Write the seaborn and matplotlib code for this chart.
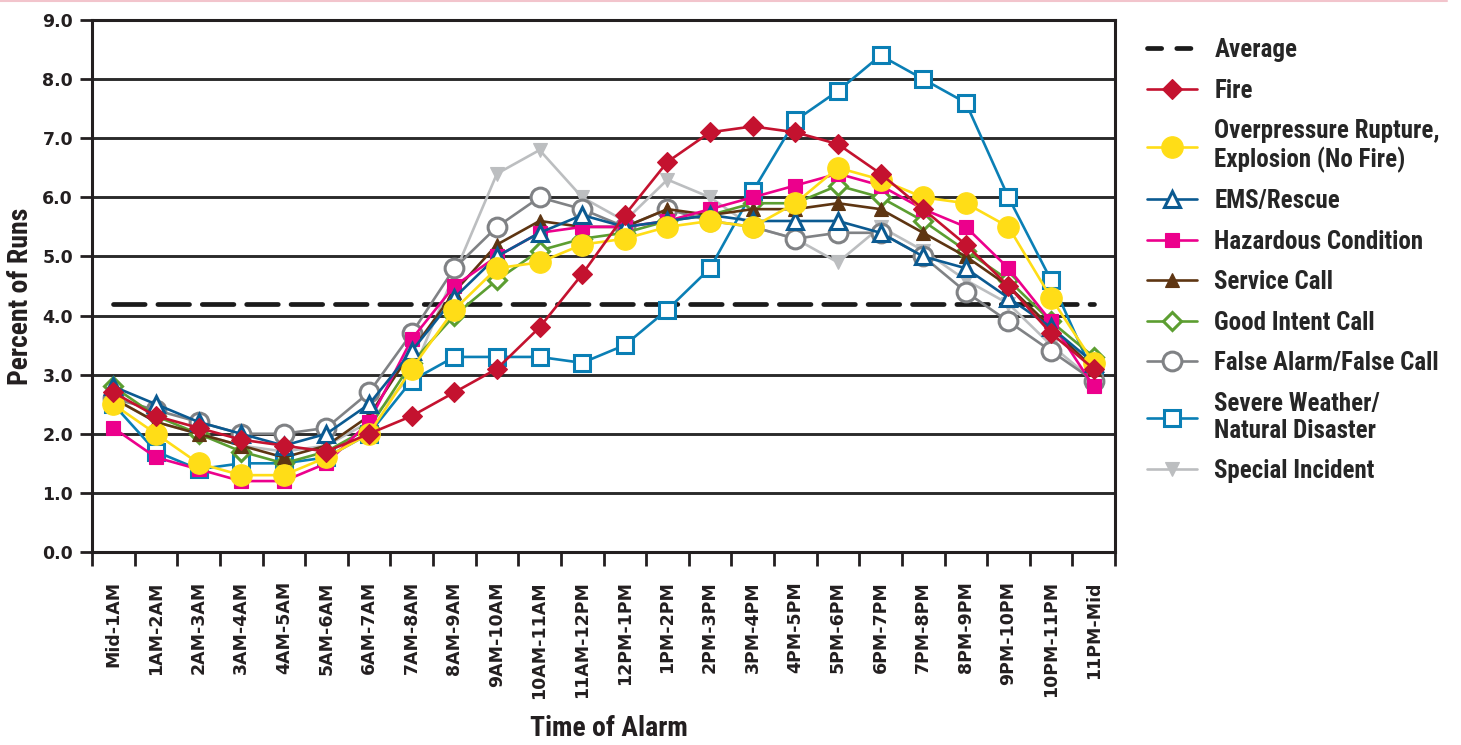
import matplotlib
matplotlib.use("Agg")
import matplotlib.pyplot as plt
from matplotlib.lines import Line2D
from matplotlib import font_manager as fm
import seaborn as sns
import pandas as pd

# Hour-of-day categories
hours = ["Mid-1AM", "1AM-2AM", "2AM-3AM", "3AM-4AM", "4AM-5AM", "5AM-6AM",
         "6AM-7AM", "7AM-8AM", "8AM-9AM", "9AM-10AM", "10AM-11AM", "11AM-12PM",
         "12PM-1PM", "1PM-2PM", "2PM-3PM", "3PM-4PM", "4PM-5PM", "5PM-6PM",
         "6PM-7PM", "7PM-8PM", "8PM-9PM", "9PM-10PM", "10PM-11PM", "11PM-Mid"]

# Percent of runs per incident type
average = 4.2
fire = [2.7, 2.3, 2.1, 1.9, 1.8, 1.7, 2.0, 2.3, 2.7, 3.1, 3.8, 4.7,
        5.7, 6.6, 7.1, 7.2, 7.1, 6.9, 6.4, 5.8, 5.2, 4.5, 3.7, 3.1]
overpressure = [2.5, 2.0, 1.5, 1.3, 1.3, 1.6, 2.0, 3.1, 4.1, 4.8, 4.9, 5.2,
                5.3, 5.5, 5.6, 5.5, 5.9, 6.5, 6.3, 6.0, 5.9, 5.5, 4.3, 3.2]
ems_rescue = [2.8, 2.5, 2.2, 2.0, 1.8, 2.0, 2.5, 3.4, 4.3, 5.0, 5.4, 5.7,
              5.5, 5.6, 5.7, 5.6, 5.6, 5.6, 5.4, 5.0, 4.8, 4.3, 3.8, 3.2]
hazardous = [2.1, 1.6, 1.4, 1.2, 1.2, 1.5, 2.2, 3.6, 4.5, 5.0, 5.4, 5.5,
             5.5, 5.6, 5.8, 6.0, 6.2, 6.4, 6.2, 5.8, 5.5, 4.8, 3.9, 2.8]
service_call = [2.6, 2.2, 2.0, 1.8, 1.6, 1.8, 2.3, 3.4, 4.4, 5.2, 5.6, 5.5,
                5.5, 5.8, 5.7, 5.8, 5.8, 5.9, 5.8, 5.4, 5.0, 4.5, 3.8, 3.1]
good_intent = [2.8, 2.3, 2.0, 1.7, 1.5, 1.7, 2.1, 3.2, 4.0, 4.6, 5.1, 5.3,
               5.4, 5.6, 5.7, 5.9, 5.9, 6.2, 6.0, 5.6, 5.1, 4.6, 3.9, 3.3]
false_alarm = [2.6, 2.4, 2.2, 2.0, 2.0, 2.1, 2.7, 3.7, 4.8, 5.5, 6.0, 5.8,
               5.5, 5.8, 5.6, 5.5, 5.3, 5.4, 5.4, 5.0, 4.4, 3.9, 3.4, 2.9]
severe_weather = [2.5, 1.7, 1.4, 1.5, 1.5, 1.6, 2.0, 2.9, 3.3, 3.3, 3.3, 3.2,
                  3.5, 4.1, 4.8, 6.1, 7.3, 7.8, 8.4, 8.0, 7.6, 6.0, 4.6, 3.0]
special_incident = [2.6, 2.2, 2.0, 1.8, 1.7, 1.8, 2.2, 3.0, 4.7, 6.4, 6.8, 6.0,
                    5.6, 6.3, 6.0, 5.5, 5.3, 4.9, 5.5, 5.1, 4.6, 4.2, 3.5, 2.9]

x = list(range(len(hours)))

# (label, values, colour, marker, marker size, face colour); drawn bottom to top
series = [
    ("Special Incident", special_incident, "#BCBEC0", "v", 10, None),
    ("Severe Weather/\nNatural Disaster", severe_weather, "#0A7FB5", "s", 12, "white"),
    ("False Alarm/False Call", false_alarm, "#808285", "o", 13.5, "white"),
    ("Good Intent Call", good_intent, "#5C9E31", "D", 9, "white"),
    ("Service Call", service_call, "#5E3512", "^", 10, None),
    ("Hazardous Condition", hazardous, "#EC008C", "s", 10, None),
    ("EMS/Rescue", ems_rescue, "#0B5A91", "^", 12, "white"),
    ("Overpressure Rupture,\nExplosion (No Fire)", overpressure, "#FFDD17", "o", 15.5, None),
    ("Fire", fire, "#C4122F", "D", 10.5, None),
]


def condensed_bold_font():
    """Return the path of a bold condensed sans face if one is installed."""
    prefs = ["robotocondensed-bold", "notosans-condensedbold",
             "notosanscondensed-bold", "liberationsansnarrow-bold",
             "opensans-condensedbold", "opensanscondensed-bold"]
    files = {f.fname.lower().split("/")[-1].rsplit(".", 1)[0]: f.fname
             for f in fm.fontManager.ttflist}
    for p in prefs:
        if p in files:
            return files[p]
    for f in fm.fontManager.ttflist:
        if f.stretch in ("condensed", "semi-condensed") and f.weight in (700, "bold") \
                and f.style == "normal":
            return f.fname
    return None


sns.set_theme(style="white")
plt.rcParams["font.family"] = ["DejaVu Sans"]

LEGEND_SIZE = 18
cond_path = condensed_bold_font()
if cond_path:
    title_fp = fm.FontProperties(fname=cond_path, size=20)
    legend_fp = fm.FontProperties(fname=cond_path, size=LEGEND_SIZE)
else:
    title_fp = fm.FontProperties(family=["Liberation Sans", "DejaVu Sans"],
                                 weight="bold", size=18)
    legend_fp = fm.FontProperties(family=["Liberation Sans", "DejaVu Sans"],
                                  weight="bold", size=LEGEND_SIZE)

fig = plt.figure(figsize=(14.61, 7.45), dpi=100)
ax = fig.add_axes([92 / 1461, 1 - 552 / 745, (1115 - 92) / 1461, (552 - 20) / 745])

# horizontal gridlines
for yv in range(1, 9):
    ax.axhline(yv, color="#2B2B2B", lw=2.1, zorder=1)

# average reference line
avg_df = pd.DataFrame({"x": x, "y": [average] * len(x)})
sns.lineplot(data=avg_df, x="x", y="y", ax=ax, color="#1A1A1A", lw=3.4,
             dashes=False, legend=False, zorder=2)
avg_line = ax.lines[-1]
avg_line.set_dashes((6.7, 2.7))
avg_line.set_dash_capstyle("round")

handles = {}
for i, (label, vals, col, mk, ms, face) in enumerate(series):
    df = pd.DataFrame({"x": x, "y": vals})
    sns.lineplot(data=df, x="x", y="y", ax=ax, color=col, lw=1.9,
                 marker=mk, markersize=ms,
                 markerfacecolor=(face if face else col),
                 markeredgecolor=col,
                 markeredgewidth=(2.2 if face else 0.8),
                 legend=False, zorder=3 + i)
    handles[label] = ax.lines[-1]

ax.set_xlim(-0.5, len(hours) - 0.5)
ax.set_ylim(0, 9)

# y axis
ax.set_yticks(range(0, 10))
ax.set_yticklabels([f"{v:.1f}" for v in range(0, 10)], fontsize=12.5,
                   fontweight="bold", color="#231F20")
ax.tick_params(axis="y", which="major", direction="out", length=8.6, width=2,
               color="#231F20", pad=5, left=True)

# x axis: labels at categories, tick marks between categories
ax.set_xticks(x)
ax.set_xticklabels(hours, rotation=90, fontsize=12.5, fontweight="bold",
                   color="#231F20", va="top", ha="center")
ax.set_xticks([v - 0.5 for v in range(len(hours) + 1)], minor=True)
ax.tick_params(axis="x", which="major", length=0, pad=21)
ax.tick_params(axis="x", which="minor", direction="out", length=10, width=2,
               color="#231F20", bottom=True)

for sp in ax.spines.values():
    sp.set_visible(True)
    sp.set_color("#231F20")
    sp.set_linewidth(2.2)

ax.set_xlabel("Time of Alarm", color="#231F20", fontproperties=title_fp)
ax.set_ylabel("Percent of Runs", color="#231F20", fontproperties=title_fp)
ax.xaxis.label.set_va("center")
ax.xaxis.set_label_coords((609 - 92) / 1023, (552 - 729) / 532)
ax.yaxis.label.set_va("center")
ax.yaxis.set_label_coords((21 - 92) / 1023, (552 - 296) / 532)
ax.grid(False)

# legend
avg_handle = Line2D([], [], color="#1A1A1A", lw=3.4, dashes=(3.0, 3.2),
                    dash_capstyle="round")
order = ["Fire", "Overpressure Rupture,\nExplosion (No Fire)", "EMS/Rescue",
         "Hazardous Condition", "Service Call", "Good Intent Call",
         "False Alarm/False Call", "Severe Weather/\nNatural Disaster",
         "Special Incident"]
leg_handles = [avg_handle] + [handles[k] for k in order]
leg_labels = ["Average"] + order


def add_legend(fp):
    lg = fig.legend(leg_handles, leg_labels, loc="upper left",
                    bbox_to_anchor=(1147 / 1461, 1 - 38 / 745),
                    frameon=False, handlelength=2.0, handletextpad=0.7,
                    labelspacing=0.66, borderpad=0, borderaxespad=0,
                    prop=fp)
    for t in lg.get_texts():
        t.set_linespacing(1.16)
    return lg


leg = add_legend(legend_fp)
fig.canvas.draw()
right = leg.get_window_extent().x1
if right > 1452:
    leg.remove()
    legend_fp = legend_fp.copy()
    legend_fp.set_size(LEGEND_SIZE * (1452 - 1147) / (right - 1147))
    leg = add_legend(legend_fp)

# thin accent rule along the top edge
fig.add_artist(Line2D([0, 1447 / 1461], [0.9985, 0.9985], color="#F2C4CC",
                      lw=1.5, transform=fig.transFigure))

fig.savefig("out.png", dpi=100, facecolor="white")
